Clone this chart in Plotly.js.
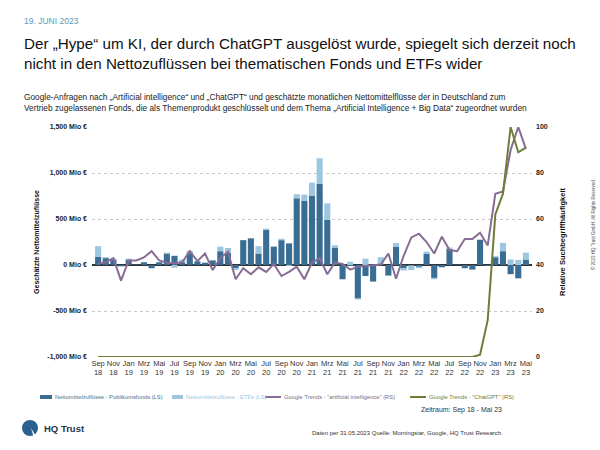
<!DOCTYPE html>
<html><head><meta charset="utf-8">
<script src="https://cdn.plot.ly/plotly-3.0.1.min.js"></script>
<style>html,body{margin:0;padding:0;background:#fff}#chart{width:600px;height:450px}</style>
</head><body><div id="chart"></div>
<script>
const months = ["Sep 18","Okt 18","Nov 18","Dez 18",
"Jan 19","Feb 19","Mrz 19","Apr 19","Mai 19","Jun 19","Jul 19","Aug 19","Sep 19","Okt 19","Nov 19","Dez 19",
"Jan 20","Feb 20","Mrz 20","Apr 20","Mai 20","Jun 20","Jul 20","Aug 20","Sep 20","Okt 20","Nov 20","Dez 20",
"Jan 21","Feb 21","Mrz 21","Apr 21","Mai 21","Jun 21","Jul 21","Aug 21","Sep 21","Okt 21","Nov 21","Dez 21",
"Jan 22","Feb 22","Mrz 22","Apr 22","Mai 22","Jun 22","Jul 22","Aug 22","Sep 22","Okt 22","Nov 22","Dez 22",
"Jan 23","Feb 23","Mrz 23","Apr 23","Mai 23"];
const publikumsfonds = [90,75,60,-15, 60,5,30,-35,30,125,100,30,130,40,25,50,
150,135,-35,270,290,125,380,200,270,235,725,700,
750,880,490,190,-155,-10,-365,-120,-180,10,-115,200,
-35,-5,-20,120,-140,-25,175,5,-35,-50,275,-10,
85,150,-100,-145,60];
const etfs = [115,10,10,0, 10,0,0,0,0,10,-30,30,25,0,0,0,
50,50,-20,0,0,80,15,0,15,-10,45,65,
145,280,180,25,0,35,-10,70,0,75,0,40,
-25,-50,-15,25,-15,0,15,0,0,0,0,0,
10,90,60,55,75];
const trendAI = [40.7,41.2,43,33.2, 42,42,43.3,46,42,41,40.8,41.2,46,41.7,45,37.8,
43,45.8,33.8,38.6,36,39,37,40.4,35.2,37,39.3,33.8,
41,43,36,41,40.5,38,39.3,39.7,40,40.2,45,34,
44,52,53.6,50,45,52.3,46.5,46,51.3,51.3,54,48.5,
71,72,90,100,90.5];
const trendChatGPT = [0,0,0,0, 0,0,0,0,0,0,0,0,0,0,0,0,
0,0,0,0,0,0,0,0,0,0,0,0,
0,0,0,0,0,0,0,0,0,0,0,0,
0,0,0,0,0,0,0,0,0,0,1,16,
62,71,100,89,91];
const seriesNames = ["Nettomittelzuflüsse - Publikumsfonds (LS)","Nettomittelzuflüsse - ETFs (LS)",
  'Google Trends - "artificial intelligence" (RS)','Google Trends - "ChatGPT" (RS)'];
const tickMonths = months.filter((m,i)=>i%2===0);
const tickLabels = tickMonths.map(m=>m.replace(" ","<br>"));
const leftTicks = [-1000,-500,0,500,1000,1500];
const rightTicks = [0,20,40,60,80,100];

const cDark="#3a6d93", cLight="#9dc6e0", cAI="#876c95", cGPT="#6f7d3a";
const textCols=["#4a6f8c","#9dc6e0","#7d6a86","#6f7d3a"];
const F="Liberation Sans, Arial, sans-serif";
// pixel -> paper helpers (plot area 92..532 x 127..357)
const PX=x=>(x-92)/440, PY=y=>(357-y)/230;

const traces=[
 {type:"bar",x:months,y:publikumsfonds,name:seriesNames[0],marker:{color:cDark}},
 {type:"bar",x:months,y:etfs,name:seriesNames[1],marker:{color:cLight}},
 {type:"scatter",mode:"lines",x:months,y:trendAI,yaxis:"y2",name:seriesNames[2],line:{color:cAI,width:2}},
 {type:"scatter",mode:"lines",x:months,y:trendChatGPT,yaxis:"y2",name:seriesNames[3],line:{color:cGPT,width:2}}
];
const ann=(x,y,text,o)=>Object.assign({xref:"paper",yref:"paper",x:PX(x),y:PY(y),text:text,showarrow:false,xanchor:"left",yanchor:"middle",align:"left",font:{family:F,size:8,color:"#222"}},o||{});
// custom legend (swatch start px, swatch end px, text start px)
const legPos=[[40,52,53],[172,183,184],[265,281,282],[410,426,427]];
const legY=397;
const legShapes=legPos.map((p,i)=>({type:"line",xref:"paper",yref:"paper",x0:PX(p[0]),x1:PX(p[1]),y0:PY(legY),y1:PY(legY),
  line:{color:[cDark,cLight,cAI,cGPT][i],width:i<2?4:2}}));
const legAnns=legPos.map((p,i)=>ann(p[2],legY,seriesNames[i],{font:{family:F,size:5.8,color:textCols[i]}}));
const layout={
 width:600,height:450,paper_bgcolor:"#fff",plot_bgcolor:"#fff",
 margin:{l:92,r:68,t:127,b:93},
 barmode:"relative",bargap:0.2,
 font:{family:F,color:"#222"},
 showlegend:false,
 xaxis:{type:"category",range:[-0.8,56.8],tickmode:"array",tickvals:tickMonths,ticktext:tickLabels,tickangle:0,
   tickfont:{family:F,size:7.5,color:"#333"},showgrid:false,zeroline:false,showline:false,ticks:"",fixedrange:true},
 yaxis:{range:[-1000,1500],tickmode:"array",tickvals:leftTicks,ticktext:leftTicks.map(v=>v.toLocaleString("en-US")+" Mio €"),
   tickfont:{family:F,size:7,color:"#222",weight:"bold"},ticklabelstandoff:4,
   showgrid:true,gridcolor:"#c8c8c8",griddash:"dot",gridwidth:1,zeroline:true,zerolinecolor:"#333",zerolinewidth:1.5,showline:false,
   title:{text:"Geschätzte Nettomittelzuflüsse",font:{family:F,size:7,color:"#111",weight:"bold"},standoff:6}},
 yaxis2:{overlaying:"y",side:"right",range:[0,100],tickmode:"array",tickvals:rightTicks,
   tickfont:{family:F,size:7,color:"#222",weight:"bold"},ticklabelstandoff:3,showgrid:false,zeroline:false,showline:false,
   title:{text:"Relative Suchbegriffhäufigkeit",font:{family:F,size:7.5,color:"#111",weight:"bold"},standoff:12}},
 annotations:[
  ann(22,21,"19. JUNI 2023",{font:{family:F,size:8.5,color:"#5e98b9"}}),
  ann(22,53,"Der „Hype“ um KI, der durch ChatGPT ausgelöst wurde, spiegelt sich derzeit noch<br>nicht in den Nettozuflüssen bei thematischen Fonds und ETFs wider",{font:{family:F,size:15.2,color:"#111"}}),
  ann(22,103,"Google-Anfragen nach „Artificial intelligence“ und „ChatGPT“ und geschätzte monatlichen Nettomittelflüsse der in Deutschland zum<br>Vertrieb zugelassenen Fonds, die als Themenprodukt geschlüsselt und dem Thema „Artificial Intelligence + Big Data“ zugeordnet wurden",{font:{family:F,size:8.3,color:"#222"}}),
  ann(504,410,"Zeitraum: Sep 18 - Mai 23",{xanchor:"right",font:{family:F,size:7,color:"#333"}}),
  ann(505,433,"Daten per 31.05.2023 Quelle: Morningstar, Google, HQ Trust Research.",{xanchor:"right",font:{family:F,size:6,color:"#333"}}),
  ann(42,428,"<b>HQ Trust</b>",{font:{family:F,size:9.5,color:"#1e3550"}}),
  ann(593,225,"© 2023 HQ Trust GmbH. All Rights Reserved.",{xanchor:"center",textangle:-90,font:{family:F,size:4.5,color:"#555"}})
 ].concat(legAnns),
 shapes:[
  {type:"circle",xref:"paper",yref:"paper",x0:PX(22),x1:PX(38),y0:PY(436),y1:PY(420),fillcolor:"#2a5f8f",line:{width:0}},
  {type:"path",xref:"paper",yref:"paper",path:`M ${PX(31)} ${PY(428)} L ${PX(37)} ${PY(438)} L ${PX(34)} ${PY(438)} Z`,fillcolor:"#fff",line:{width:0}}
 ].concat(legShapes)
};
Plotly.newPlot("chart",traces,layout,{displayModeBar:false,staticPlot:true});
</script></body></html>
